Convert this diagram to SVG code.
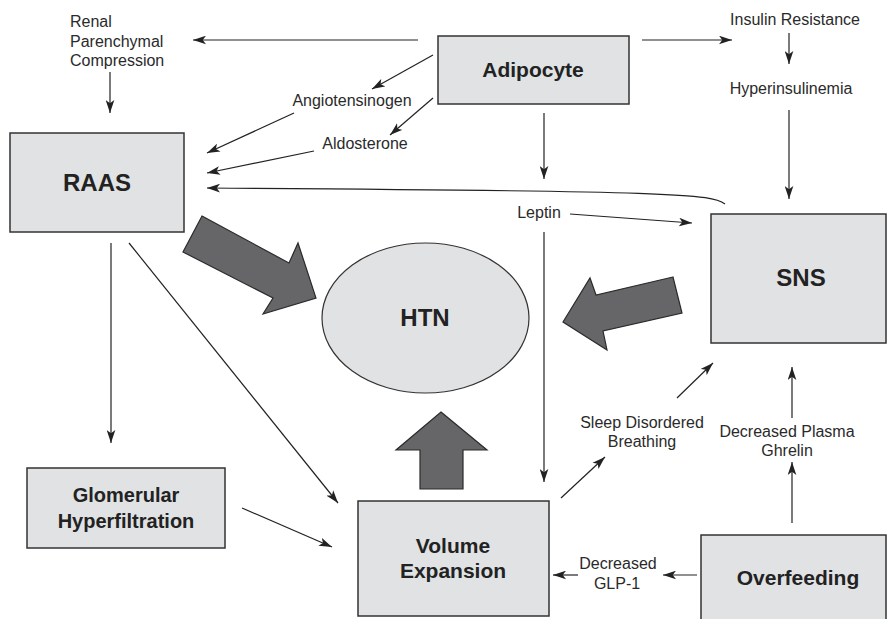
<svg xmlns="http://www.w3.org/2000/svg" width="888" height="619" viewBox="0 0 888 619">
<style>
.box{fill:#e1e2e4;stroke:#333;stroke-width:1.5}
.big{fill:#666668;stroke:#2a2a2a;stroke-width:1.2}
.ln{fill:none;stroke:#222;stroke-width:1.2;marker-end:url(#ah)}
.lbl{font-family:"Liberation Sans",Arial,sans-serif;font-size:16px;fill:#2a2a2a;text-anchor:middle}
.st{text-anchor:start}
.b{font-family:"Liberation Sans",Arial,sans-serif;font-weight:bold;fill:#222;text-anchor:middle}
</style>
<defs>
<marker id="ah" viewBox="0 0 12 8" refX="12" refY="4" markerWidth="13" markerHeight="9" markerUnits="userSpaceOnUse" orient="auto">
<path d="M0,0 L12,4 L0,8 L3,4 z" fill="#222"/>
</marker>
</defs>
<rect width="888" height="619" fill="#fff"/>
<g id="connectors">
<line class="ln" x1="418" y1="40" x2="193" y2="40"/>
<line class="ln" x1="110" y1="72" x2="110" y2="113"/>
<line class="ln" x1="433" y1="55" x2="372" y2="89"/>
<line class="ln" x1="294" y1="113" x2="207" y2="153"/>
<line class="ln" x1="433" y1="98" x2="390" y2="135"/>
<line class="ln" x1="314" y1="151" x2="207" y2="173"/>
<path class="ln" d="M725,204 C712,194 680,191 207,188"/>
<line class="ln" x1="642" y1="40" x2="732" y2="40"/>
<line class="ln" x1="789" y1="33" x2="789" y2="64"/>
<line class="ln" x1="789" y1="110" x2="789" y2="199"/>
<line class="ln" x1="544" y1="113" x2="544" y2="179"/>
<line class="ln" x1="570" y1="214" x2="692" y2="223"/>
<line class="ln" x1="544" y1="232" x2="544" y2="482"/>
<line class="ln" x1="111" y1="243" x2="111" y2="443"/>
<line class="ln" x1="129" y1="243" x2="338" y2="503"/>
<line class="ln" x1="242" y1="508" x2="332" y2="547"/>
<line class="ln" x1="561" y1="498" x2="605" y2="457"/>
<line class="ln" x1="677" y1="398" x2="713" y2="363"/>
<line class="ln" x1="792" y1="418" x2="792" y2="367"/>
<line class="ln" x1="792" y1="523" x2="792" y2="462"/>
<line class="ln" x1="697" y1="575" x2="663" y2="575"/>
<line class="ln" x1="578" y1="575" x2="553" y2="575"/>
<polygon class="big" points="202,216 289,263 298,243 316,298 263,314 273,298 183,252"/>
<polygon class="big" points="673,277 596,295 590,278 563,322 607,350 603,331 682,313"/>
<polygon class="big" points="441,412 487,450 463,450 463,489 420,489 420,450 396,450"/>
</g>
<g id="adipocyte"><rect class="box" x="438" y="36" width="191" height="68"/><text class="b" x="533" y="77" font-size="21">Adipocyte</text></g>
<g id="raas"><rect class="box" x="10" y="133" width="174" height="99"/><text class="b" x="97" y="191" font-size="24">RAAS</text></g>
<g id="sns"><rect class="box" x="711" y="214" width="175" height="129"/><text class="b" x="801" y="286" font-size="24">SNS</text></g>
<g id="htn"><ellipse cx="425.5" cy="318" rx="103.5" ry="75" fill="#e1e2e4" stroke="#333" stroke-width="1.2"/><text class="b" x="425" y="326" font-size="24">HTN</text></g>
<g id="glomerular"><rect class="box" x="27" y="468" width="198" height="80"/><text class="b" x="126" y="502" font-size="20">Glomerular</text><text class="b" x="126" y="528" font-size="20">Hyperfiltration</text></g>
<g id="volume"><rect class="box" x="358" y="501" width="191" height="115"/><text class="b" x="453" y="553" font-size="21">Volume</text><text class="b" x="453" y="578" font-size="21">Expansion</text></g>
<g id="overfeeding"><rect class="box" x="701" y="535" width="185" height="90"/><text class="b" x="798" y="585" font-size="21">Overfeeding</text></g>
<g id="renal"><text class="lbl st" x="70" y="27">Renal</text><text class="lbl st" x="70" y="47">Parenchymal</text><text class="lbl st" x="70" y="66">Compression</text></g>
<g id="angiotensinogen"><text class="lbl" x="352" y="106">Angiotensinogen</text></g>
<g id="aldosterone"><text class="lbl" x="365" y="149">Aldosterone</text></g>
<g id="insulin"><text class="lbl" x="795" y="25">Insulin Resistance</text></g>
<g id="hyperinsulinemia"><text class="lbl" x="791" y="94">Hyperinsulinemia</text></g>
<g id="leptin"><text class="lbl" x="539" y="218">Leptin</text></g>
<g id="sleep"><text class="lbl" x="642" y="428">Sleep Disordered</text><text class="lbl" x="642" y="447">Breathing</text></g>
<g id="ghrelin"><text class="lbl" x="787" y="437">Decreased Plasma</text><text class="lbl" x="787" y="456">Ghrelin</text></g>
<g id="glp1"><text class="lbl" x="618" y="569">Decreased</text><text class="lbl" x="617" y="589">GLP-1</text></g>
</svg>
